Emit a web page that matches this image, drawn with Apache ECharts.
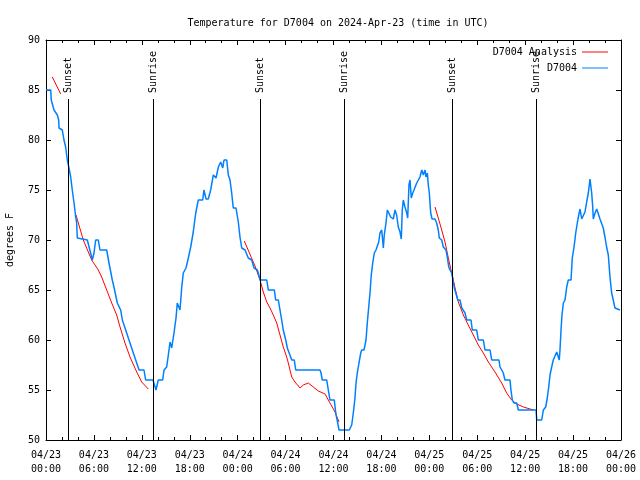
<!DOCTYPE html>
<html><head><meta charset="utf-8">
<script src="https://cdn.jsdelivr.net/npm/echarts@6/dist/echarts.min.js"></script>
<style>html,body{margin:0;padding:0;background:#fff}#c{width:640px;height:480px}</style>
</head><body><div id="c"></div>
<script>
// hours after 2024-04-23 00:00 UTC
const obsHours = [0.0,0.59,0.66,1.0,1.42,1.59,1.63,2.04,2.25,2.46,2.67,2.88,3.09,3.29,3.51,3.72,3.84,3.92,4.13,5.17,5.59,5.80,6.01,6.22,6.55,6.76,7.60,7.89,8.30,8.51,8.93,9.35,9.56,9.98,10.39,10.81,11.23,11.65,12.27,12.48,13.02,13.40,13.77,14.06,14.61,14.78,15.11,15.32,15.53,15.74,16.03,16.28,16.44,16.78,16.99,17.19,17.53,17.82,18.12,18.44,18.75,19.07,19.62,19.78,20.04,20.32,20.62,20.95,21.29,21.58,21.88,22.13,22.29,22.63,22.83,23.04,23.25,23.45,23.79,24.08,24.29,24.51,24.92,25.33,25.76,26.05,26.46,26.59,26.80,27.64,27.84,28.59,28.76,29.09,29.30,29.51,29.71,30.02,30.22,30.43,30.77,31.09,31.27,34.31,34.44,34.60,35.15,35.35,35.56,36.10,36.28,36.53,36.69,37.98,38.28,38.48,38.69,38.82,38.98,39.19,39.41,39.53,39.82,40.07,40.23,40.41,40.57,40.73,40.91,41.11,41.32,41.49,41.66,41.82,42.04,42.24,42.36,42.57,42.74,42.99,43.16,43.36,43.49,43.70,43.91,44.11,44.33,44.49,44.61,44.74,44.95,45.17,45.29,45.45,45.58,45.74,45.92,46.08,46.29,46.42,46.83,47.05,47.25,47.46,47.58,47.75,47.87,48.00,48.08,48.17,48.34,48.71,48.92,49.12,49.25,49.55,49.75,50.09,50.25,50.43,50.59,50.80,50.97,51.13,51.31,51.56,51.84,52.06,52.26,52.47,52.68,53.22,53.38,53.93,54.13,54.76,54.97,55.60,55.81,56.72,56.85,57.06,57.26,57.47,58.10,58.22,58.39,58.60,58.94,59.14,61.36,61.45,62.07,62.28,62.57,62.77,62.95,63.11,63.32,63.52,63.74,63.95,64.27,64.36,64.49,64.61,64.78,64.99,65.20,65.40,65.74,65.90,66.12,66.33,66.53,66.66,66.87,67.08,67.28,67.49,67.70,67.91,68.12,68.33,68.46,68.53,68.75,68.96,69.16,69.37,69.58,69.78,69.99,70.20,70.41,70.62,70.83,71.03,71.24,71.46,71.87];
const obsTemps = [85,85,84,83,82.5,82,81.2,81,80,79.3,78,77.2,76.3,75,73.7,72.3,71.7,70.2,70,70,68.7,68,68.7,70,70,69,69,67.7,66,65.3,63.7,63,62,61,60,59,58,57,57,56,56,56,55,56,56,57,57.3,58.5,59.8,59.2,60.7,62.2,63.7,63,65.2,66.7,67.2,68.2,69.3,70.8,72.7,74,74,75,74.1,74.1,75,76.5,76.2,77.3,77.8,77.2,78,78,76.5,76,74.7,73.2,73.2,71.8,70.3,69.2,69,68.2,68,67.2,67,66.7,66,66,65,65,64,64,63,62,61,60,59.2,59,58,58,57,57,56.7,56,56,55,54,54,52.7,51.7,51,51,51.5,52.7,54.2,55.7,56.7,57.7,58.7,59,59,60,61.7,63.3,64.7,66.5,67.7,68.7,69,69,69.8,70.7,71,69.2,70.5,71.7,73,73,72.3,72.1,72.1,73,72.5,71.3,70.8,70.1,73,74,73.3,72.7,72.2,75.5,76,74.2,74.7,75,75,75.7,76.3,77,76.5,77,76.3,76.7,75.5,74.7,73.7,72.7,72.1,72.1,71.7,71,70.2,70,69.3,69,68.3,67.3,67,66.7,66,65.2,64.7,64,64,63.2,63,62.7,62,62,61,61,60,60,59,59,58,58,57.3,57,56.7,56,56,55,54,53.7,53.7,53,53,52,52,53,53.3,54.2,55.3,56.5,57.3,58,58.2,58.8,58,59,61,62.5,63.7,64,65.3,66,66,68.2,69.3,70.7,71.7,72.3,73.1,72.1,72.1,72.8,73.8,74.7,76.1,74.7,73.3,72.1,72.7,73.1,73.1,72.1,72.1,71.2,70.3,69.3,68.5,66.3,64.7,64,63.2,63,63];
// analysis ('-' = gap)
const anaHours = [0.79,1.84,2.5,3.76,4.67,5.72,6.14,6.55,6.97,7.60,8.23,8.85,9.27,9.89,10.52,11.36,11.98,12.81,18.0,24.83,26.17,26.80,27.21,27.64,28.05,28.46,28.89,29.30,29.71,30.14,30.34,30.77,31.18,31.81,32.22,32.85,33.47,34.10,34.94,35.56,36.19,36.69,42.0,48.71,49.12,49.55,49.96,50.38,50.80,51.22,51.63,52.26,52.88,53.51,54.13,54.76,55.39,56.22,57.06,57.68,58.31,58.94,59.78,60.62,61.03];
const anaTemps = [86.3,84.6,'-',72.5,70,68,67.5,67,66.3,65,63.7,62.5,61.3,59.7,58.3,56.8,55.8,55.1,'-',69.9,67.4,66,64.8,63.8,63.2,62.5,61.7,60.5,59.3,58.3,57.7,56.3,55.8,55.2,55.5,55.7,55.3,54.9,54.6,53.7,52.8,51.8,'-',73.3,72.2,71,69.8,68.2,66.7,65.2,63.8,62.5,61.5,60.5,59.5,58.7,57.8,56.8,55.7,54.7,54,53.6,53.3,53.1,53];
const sunHours = [2.80,13.44,26.84,37.38,50.88,61.40];
const sunNames = ['Sunset','Sunrise','Sunset','Sunrise','Sunset','Sunrise'];
const xTickLabels = ['04/23\n00:00','04/23\n06:00','04/23\n12:00','04/23\n18:00','04/24\n00:00','04/24\n06:00','04/24\n12:00','04/24\n18:00','04/25\n00:00','04/25\n06:00','04/25\n12:00','04/25\n18:00','04/26\n00:00'];

const F = 'DejaVu Sans Mono, monospace';
const chart = echarts.init(document.getElementById('c'), null, {renderer:'canvas'});
const axisBase = {
  type:'value', axisLine:{show:true, onZero:false, lineStyle:{color:'#000', width:1}},
  splitLine:{show:false},
  axisTick:{show:true, inside:true, length:5, lineStyle:{color:'#000'}}
};
chart.setOption({
  animation:false,
  backgroundColor:'#fff',
  title:{text:'Temperature for D7004 on 2024-Apr-23 (time in UTC)', left:333, top:13, textAlign:'center',
    textStyle:{fontFamily:F, fontSize:10, fontWeight:'normal', color:'#000'}},
  legend:{orient:'vertical', right:27, top:41, align:'right', itemWidth:26, itemHeight:1, itemGap:4,
    icon:'rect', data:['D7004 Analysis','D7004'],
    textStyle:{fontFamily:F, fontSize:10, color:'#000', lineHeight:12}},
  grid:{left:46, right:19, top:40, bottom:40, containLabel:false, outerBoundsMode:'none'},
  xAxis:[
    Object.assign({}, axisBase, {min:0, max:72, interval:6, position:'bottom',
      minorTick:{show:true, splitNumber:3, length:3, lineStyle:{color:'#000'}},
      axisLabel:{fontFamily:F, fontSize:10, color:'#000', margin:8, lineHeight:14,
        formatter:v=>xTickLabels[Math.round(v/6)]}}),
    Object.assign({}, axisBase, {min:0, max:72, interval:6, position:'top',
      minorTick:{show:true, splitNumber:3, length:3, lineStyle:{color:'#000'}},
      axisLabel:{show:false}})
  ],
  yAxis:[
    Object.assign({}, axisBase, {min:50, max:90, interval:5, position:'left',
      name:'degrees F', nameLocation:'middle', nameRotate:90, nameGap:31,
      nameTextStyle:{fontFamily:F, fontSize:10, color:'#000'},
      axisLabel:{fontFamily:F, fontSize:10, color:'#000', margin:6}}),
    Object.assign({}, axisBase, {min:50, max:90, interval:5, position:'right', axisLabel:{show:false}})
  ],
  series:[
    {name:'sun', type:'line', data:[], silent:true,
      markLine:{silent:true, symbol:'none', label:{show:false}, lineStyle:{color:'#000', width:1, type:'solid'},
        data: sunHours.map(h=>[{coord:[h,50]},{coord:[h,84.1]}])},
      markPoint:{silent:true, symbol:'circle', symbolSize:0,
        label:{show:true, position:'inside', rotate:90, align:'left', verticalAlign:'middle',
          fontFamily:F, fontSize:10, color:'#000', formatter:p=>p.name},
        data: sunHours.map((h,i)=>({name:sunNames[i], coord:[h,84.7], value:0}))}
    },
    {name:'D7004 Analysis', type:'line', showSymbol:false, symbol:'none', connectNulls:false,
      color:'#ff0000', lineStyle:{color:'#ff0000', width:1},
      data: anaHours.map((h,i)=>[h, anaTemps[i]])},
    {name:'D7004', type:'line', showSymbol:false, symbol:'none',
      color:'#0080ff', lineStyle:{color:'#0080ff', width:1.5},
      data: obsHours.map((h,i)=>[h, obsTemps[i]])}
  ]
});
</script></body></html>
